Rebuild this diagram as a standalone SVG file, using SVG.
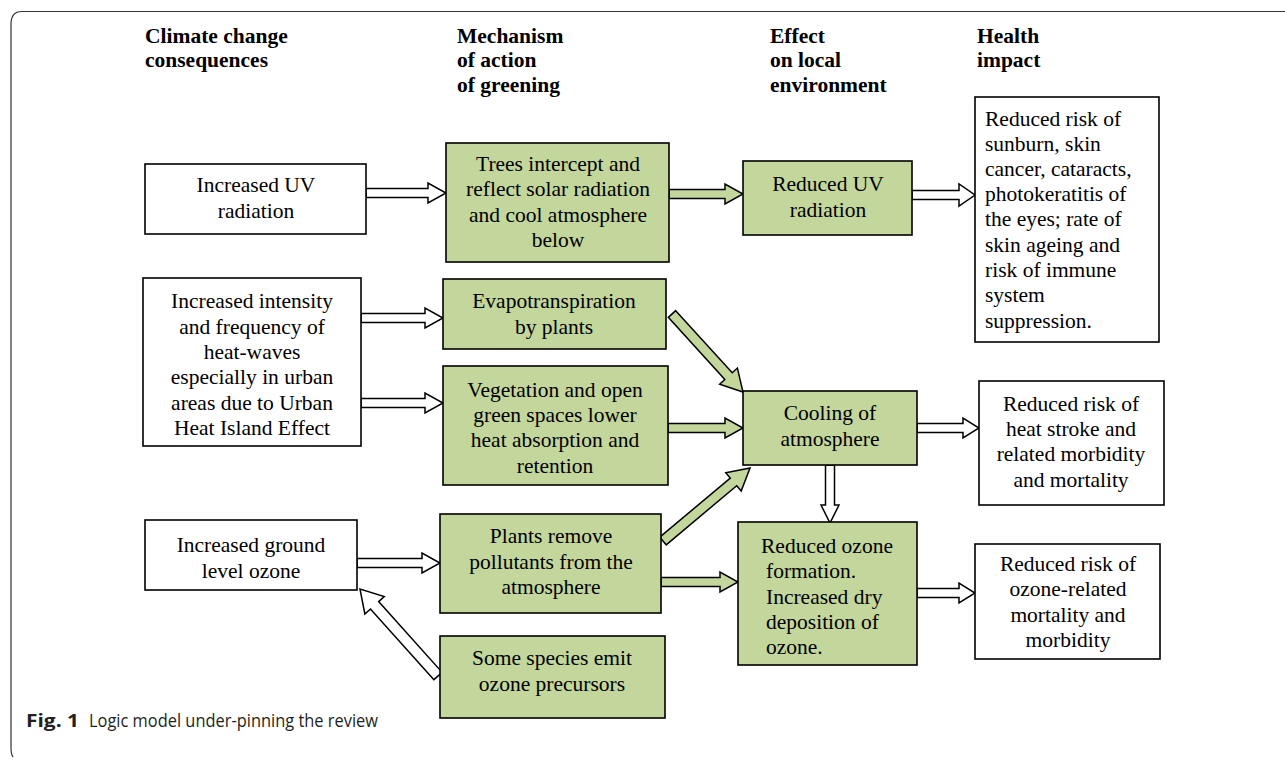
<svg xmlns="http://www.w3.org/2000/svg" width="1285" height="761" viewBox="0 0 1285 761">
<style>
.bg{fill:#ffffff}
.frame{fill:none;stroke:#333;stroke-width:1.2}
.w{fill:#ffffff;stroke:#000;stroke-width:1.6}
.g{fill:#c3d69b;stroke:#000;stroke-width:1.6}
.aw{fill:#ffffff;stroke:#000;stroke-width:1.5;stroke-linejoin:miter}
.ag{fill:#c3d69b;stroke:#000;stroke-width:1.5;stroke-linejoin:miter}
text{font-family:"Liberation Serif","Times New Roman",serif;font-size:21.5px;fill:#000}
.c{text-anchor:middle}
.h{font-weight:bold}
.cap{font-family:"Open Sans","Noto Sans",sans-serif;font-size:17.5px;fill:#231f20}
</style>
<rect class="bg" x="0" y="0" width="1285" height="761"/>
<path class="frame" d="M1285 11.5 H22 Q11 11.5 11 24 V748 Q11 754 13 757"/>

<g id="headers">
<text class="h" x="145" y="43">Climate change</text>
<text class="h" x="145" y="67">consequences</text>
<text class="h" x="457" y="43">Mechanism</text>
<text class="h" x="457" y="67">of action</text>
<text class="h" x="457" y="92">of greening</text>
<text class="h" x="770" y="43">Effect</text>
<text class="h" x="770" y="67">on local</text>
<text class="h" x="770" y="92">environment</text>
<text class="h" x="977" y="43">Health</text>
<text class="h" x="977" y="67">impact</text>
</g>

<g id="connectors">
<g transform="translate(366,193)"><polygon class="aw" points="0,-4.5 62,-4.5 62,-10 80,0 62,10 62,4.5 0,4.5"/></g>
<g transform="translate(669,194)"><polygon class="ag" points="0,-4.5 56,-4.5 56,-10 74,0 56,10 56,4.5 0,4.5"/></g>
<g transform="translate(912,195)"><polygon class="aw" points="0,-4.5 47,-4.5 47,-11 63,0 47,11 47,4.5 0,4.5"/></g>
<g transform="translate(361,318)"><polygon class="aw" points="0,-4.5 64,-4.5 64,-10 82,0 64,10 64,4.5 0,4.5"/></g>
<g transform="translate(361,403)"><polygon class="aw" points="0,-4.5 64,-4.5 64,-10 82,0 64,10 64,4.5 0,4.5"/></g>
<g transform="translate(672,314) rotate(47.7)"><polygon class="ag" points="0,-5 84,-5 84,-12 105.5,0 84,12 84,5 0,5"/></g>
<g transform="translate(668,428)"><polygon class="ag" points="0,-4.5 57,-4.5 57,-10 75,0 57,10 57,4.5 0,4.5"/></g>
<g transform="translate(663,541) rotate(-40)"><polygon class="ag" points="0,-5 92,-5 92,-12 113.6,0 92,12 92,5 0,5"/></g>
<g transform="translate(661,582)"><polygon class="ag" points="0,-4.5 59,-4.5 59,-10 77,0 59,10 59,4.5 0,4.5"/></g>
<g transform="translate(917,428)"><polygon class="aw" points="0,-4.5 46,-4.5 46,-10 62,0 46,10 46,4.5 0,4.5"/></g>
<g transform="translate(830,465) rotate(90)"><polygon class="aw" points="0,-4.5 40,-4.5 40,-9 58,0 40,9 40,4.5 0,4.5"/></g>
<g transform="translate(917,593)"><polygon class="aw" points="0,-4.5 42,-4.5 42,-10 58,0 42,10 42,4.5 0,4.5"/></g>
<g transform="translate(357,563)"><polygon class="aw" points="0,-4.5 65,-4.5 65,-10 83,0 65,10 65,4.5 0,4.5"/></g>
<g transform="translate(438,676) rotate(-131.9)"><polygon class="aw" points="0,-5.5 95,-5.5 95,-13 116.8,0 95,13 95,5.5 0,5.5"/></g>
</g>

<g id="n-uv">
<rect class="w" x="145" y="164" width="221" height="70"/>
<text class="c" x="256" y="192">Increased UV</text>
<text class="c" x="256" y="218">radiation</text>
</g>
<g id="n-trees">
<rect class="g" x="446" y="143" width="223" height="119"/>
<text class="c" x="558" y="171">Trees intercept and</text>
<text class="c" x="558" y="196">reflect solar radiation</text>
<text class="c" x="558" y="222">and cool atmosphere</text>
<text class="c" x="558" y="247">below</text>
</g>
<g id="n-reduv">
<rect class="g" x="743" y="161" width="169" height="74"/>
<text class="c" x="828" y="191">Reduced UV</text>
<text class="c" x="828" y="217">radiation</text>
</g>
<g id="n-sunburn">
<rect class="w" x="975" y="97" width="184" height="245"/>
<text x="985" y="126">Reduced risk of</text>
<text x="985" y="151">sunburn, skin</text>
<text x="985" y="176">cancer, cataracts,</text>
<text x="985" y="201">photokeratitis of</text>
<text x="985" y="226">the eyes; rate of</text>
<text x="985" y="252">skin ageing and</text>
<text x="985" y="277">risk of immune</text>
<text x="985" y="302">system</text>
<text x="985" y="328">suppression.</text>
</g>
<g id="n-heat">
<rect class="w" x="143" y="278" width="218" height="168"/>
<text class="c" x="252" y="308">Increased intensity</text>
<text class="c" x="252" y="334">and frequency of</text>
<text class="c" x="252" y="359">heat-waves</text>
<text class="c" x="252" y="384">especially in urban</text>
<text class="c" x="252" y="410">areas due to Urban</text>
<text class="c" x="252" y="435">Heat Island Effect</text>
</g>
<g id="n-evapo">
<rect class="g" x="443" y="279" width="223" height="70"/>
<text class="c" x="554" y="308">Evapotranspiration</text>
<text class="c" x="554" y="334">by plants</text>
</g>
<g id="n-veg">
<rect class="g" x="443" y="366" width="225" height="119"/>
<text class="c" x="555" y="397">Vegetation and open</text>
<text class="c" x="555" y="422">green spaces lower</text>
<text class="c" x="555" y="447">heat absorption and</text>
<text class="c" x="555" y="473">retention</text>
</g>
<g id="n-cool">
<rect class="g" x="743" y="391" width="174" height="74"/>
<text class="c" x="830" y="420">Cooling of</text>
<text class="c" x="830" y="446">atmosphere</text>
</g>
<g id="n-heatrisk">
<rect class="w" x="979" y="381" width="185" height="124"/>
<text class="c" x="1071" y="411">Reduced risk of</text>
<text class="c" x="1071" y="436">heat stroke and</text>
<text class="c" x="1071" y="461">related morbidity</text>
<text class="c" x="1071" y="487">and mortality</text>
</g>
<g id="n-ozone">
<rect class="w" x="145" y="520" width="212" height="70"/>
<text class="c" x="251" y="552">Increased ground</text>
<text class="c" x="251" y="578">level ozone</text>
</g>
<g id="n-plants">
<rect class="g" x="440" y="514" width="221" height="99"/>
<text class="c" x="551" y="543">Plants remove</text>
<text class="c" x="551" y="569">pollutants from the</text>
<text class="c" x="551" y="594">atmosphere</text>
</g>
<g id="n-redozone">
<rect class="g" x="738" y="522" width="179" height="143"/>
<text x="761" y="553">Reduced ozone</text>
<text x="766" y="578">formation.</text>
<text x="766" y="604">Increased dry</text>
<text x="766" y="629">deposition of</text>
<text x="766" y="654">ozone.</text>
</g>
<g id="n-ozonerisk">
<rect class="w" x="975" y="544" width="185" height="115"/>
<text class="c" x="1068" y="571">Reduced risk of</text>
<text class="c" x="1068" y="596">ozone-related</text>
<text class="c" x="1068" y="622">mortality and</text>
<text class="c" x="1068" y="647">morbidity</text>
</g>
<g id="n-species">
<rect class="g" x="440" y="636" width="225" height="82"/>
<text class="c" x="552" y="665">Some species emit</text>
<text class="c" x="552" y="691">ozone precursors</text>
</g>

<g id="caption">
<text class="cap" x="26" y="727" font-weight="bold" textLength="53" lengthAdjust="spacingAndGlyphs">Fig. 1</text>
<text class="cap" x="89" y="727" textLength="289" lengthAdjust="spacingAndGlyphs">Logic model under-pinning the review</text>
</g>
</svg>
